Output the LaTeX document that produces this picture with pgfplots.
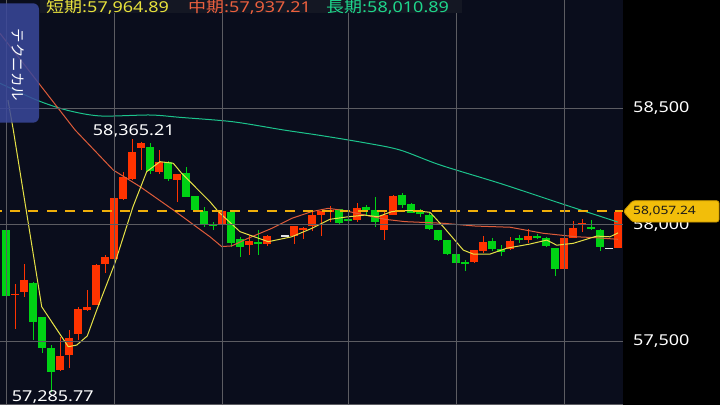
\documentclass[border=0pt]{standalone}
\usepackage{graphicx}
\usepackage{fontspec}
\setmainfont{Noto Sans}
\newfontfamily\jp{Noto Sans CJK JP}
\usepackage{pgfplots}
\pgfplotsset{compat=1.18}
\usepackage{pgfplotstable}

\definecolor{bgnavy}{RGB}{10,13,28}
\definecolor{gridc}{RGB}{92,92,98}
\definecolor{upcol}{RGB}{255,51,0}
\definecolor{dncol}{RGB}{0,210,20}
\definecolor{dojicol}{RGB}{225,225,230}
\definecolor{shortc}{RGB}{230,225,70}
\definecolor{midc}{RGB}{222,92,58}
\definecolor{longc}{RGB}{28,195,140}
\definecolor{dashc}{RGB}{240,175,10}
\definecolor{tagc}{RGB}{242,190,10}
\definecolor{tagedge}{RGB}{200,150,0}
\definecolor{btnc}{RGB}{58,72,155}
\definecolor{legbg}{RGB}{20,23,35}
\definecolor{shorttxt}{RGB}{232,226,60}
\definecolor{midtxt}{RGB}{236,96,62}
\definecolor{longtxt}{RGB}{30,215,140}

% slot open high low close
\pgfplotstableread{
x o h l c
2 57698 57746 57553 57705
3 57713 57831 57690 57763
7 57378 57519 57373 57437
8 57443 57547 57386 57514
9 57531 57648 57506 57639
10 57634 57720 57632 57647
11 57656 57831 57656 57827
12 57831 57870 57792 57860
13 57852 58114 57852 58114
14 58109 58227 58106 58204
15 58196 58365.21 58191 58311
16 58330 58354 58234 58353
18 58227 58323 58220 58269
20 58193 58218 58098 58218
25 57999 58063 57996 58060
28 57913 57956 57870 57933
30 57917 57956 57909 57951
33 57951 57994 57917 57994
34 57980 57991 57939 57987
35 57994 58059 57974 58040
36 58041 58061 57951 58059
37 58054 58080 58013 58063
40 58020 58092 58013 58071
43 57977 58056 57934 58041
44 58044 58127 58041 58123
53 57839 57891 57837 57891
54 57888 57951 57880 57927
57 57896 57946 57891 57930
59 57934 57984 57924 57951
63 57809 57943 57809 57943
64 57944 58016 57942 57984
65 57999 58023 57970 58007
69 57900 58057.24 57900 58057.24
}\tabUp

\pgfplotstableread{
x o h l c
1 57977 57977 57696 57696
4 57750 57754 57506 57584
5 57604 57604 57451 57473
6 57471 57484 57285.77 57367
17 58334 58351 58217 58229
19 58269 58273 58187 58196
21 58223 58248 58119 58122
22 58122 58123 58060 58066
23 58062 58077 57991 58002
24 58003 58013 57977 57997
26 58053 58059 57906 57920
27 57939 57946 57863 57906
29 57927 57977 57870 57919
38 58066 58067 58004 58008
39 58023 58024 58016 58017
41 58076 58084 58037 58063
42 58063 58120 57991 58013
45 58126 58137 58074 58083
46 58089 58093 58050 58051
47 58056 58067 58034 58049
48 58043 58051 57979 57981
49 57977 57980 57930 57934
50 57934 57934 57870 57876
51 57874 57874 57836 57837
52 57840 57849 57803 57835
55 57930 57946 57888 57899
56 57899 57913 57867 57884
58 57943 57956 57923 57939
60 57951 57960 57937 57947
61 57944 57949 57906 57909
62 57900 57900 57781 57813
66 57990 58023 57977 57981
67 57980 57984 57887 57906
}\tabDn

\pgfplotstableread{
x o h l c
32 57956 57956 57952 57952
68 57900 57900 57897 57897
}\tabDoji

\begin{document}
\begin{tikzpicture}
\useasboundingbox (0,0) rectangle (720pt,405pt);
\fill[black] (0,0) rectangle (720pt,405pt);
\begin{axis}[
  at={(0pt,0pt)}, anchor=south west,
  scale only axis, width=623pt, height=405pt,
  xmin=0.333, xmax=69.556, ymin=57227.1, ymax=58962.9,
  axis background/.style={fill=bgnavy},
  axis line style={draw=none},
  xtick={1,13,25,39,51,63}, xticklabels={},
  ytick={57500,58000,58500},
  yticklabels={{\scalebox{1.2}[1]{57,500}},{\scalebox{1.2}[1]{58,000}},{\scalebox{1.2}[1]{58,500}}},
  yticklabel pos=right,
  major tick length=0pt,
  grid=major, grid style={gridc, line width=1pt},
  axis on top,
  yticklabel style={font=\fontsize{15}{18}\selectfont, text=white, anchor=west, inner sep=0pt, xshift=10pt},
]
% wicks
\addplot[forget plot, draw=none, mark=none, error bars/.cd, y dir=both, y explicit, error mark=none,
  error bar style={draw=upcol, line width=1pt}]
  table[x=x, y expr=(\thisrow{h}+\thisrow{l})/2, y error expr=(\thisrow{h}-\thisrow{l})/2] {\tabUp};
\addplot[forget plot, draw=none, mark=none, error bars/.cd, y dir=both, y explicit, error mark=none,
  error bar style={draw=dncol, line width=1pt}]
  table[x=x, y expr=(\thisrow{h}+\thisrow{l})/2, y error expr=(\thisrow{h}-\thisrow{l})/2] {\tabDn};
% bodies
\addplot[forget plot, draw=none, mark=none, error bars/.cd, y dir=both, y explicit, error mark=none,
  error bar style={draw=upcol, line width=7.5pt}]
  table[x=x, y expr=(\thisrow{o}+\thisrow{c})/2, y error expr=abs(\thisrow{c}-\thisrow{o})/2] {\tabUp};
\addplot[forget plot, draw=none, mark=none, error bars/.cd, y dir=both, y explicit, error mark=none,
  error bar style={draw=dncol, line width=7.5pt}]
  table[x=x, y expr=(\thisrow{o}+\thisrow{c})/2, y error expr=abs(\thisrow{c}-\thisrow{o})/2] {\tabDn};
\addplot[forget plot, draw=none, mark=none, error bars/.cd, y dir=both, y explicit, error mark=none,
  error bar style={draw=dojicol, line width=7.5pt}]
  table[x=x, y expr=(\thisrow{o}+\thisrow{c})/2, y error expr=abs(\thisrow{c}-\thisrow{o})/2] {\tabDoji};
% long MA
\addplot[longc, line width=1pt, mark=none, smooth, tension=0.5] coordinates {
(0.33,58606) (4.41,58534) (7.74,58491) (11.44,58466) (17,58470) (20.33,58460) (26.22,58441)
(31.81,58406) (36,58382) (41,58350) (44.78,58320) (49.22,58256) (55.89,58177) (62.56,58092) (69,58010.89)};
% medium MA
\addplot[midc, line width=1pt, mark=none] coordinates {
(0.33,58820) (8.67,58406) (12.92,58234) (15.89,58163) (19.59,58063) (23.67,57948) (24.97,57906)
(26.08,57909) (27.92,57942) (30.52,57984) (32.74,58027) (34.97,58056) (36.81,58070) (38.67,58060)
(40.89,58041) (43.11,58023) (45.33,58013) (49.56,58006) (53.19,57994) (57,57989) (60.7,57963)
(64.41,57948) (66.63,57944) (69,57937.21)};
% short MA
\addplot[shortc, line width=1pt, mark=none] coordinates {
(1.22,58534) (1.81,58406) (4.97,57648) (7.92,57477) (8.86,57484) (10.03,57523) (11.08,57634)
(13.11,57836) (15.11,58077) (16.63,58227) (18.11,58270) (19.59,58263) (20.52,58220) (22.56,58141)
(23.67,58098) (24.59,58056) (27,57970) (30.14,57927) (32.74,57948) (34.97,57984) (37,58023)
(39.03,58034) (40.89,58041) (42.33,58034) (43.86,58056) (45.33,58060) (46.44,58060) (48.11,58053)
(49.59,57991) (51.81,57891) (52.92,57874) (54.78,57874) (56.63,57899) (59.22,57917) (61.08,57934)
(62.19,57912) (64.03,57920) (66.63,57951) (68.11,57948) (69,57964.89)};
% current price line
\addplot[draw=dashc, line width=2pt, dash pattern=on 10pt off 8.33pt, dash phase=8.33pt, mark=none]
  coordinates {(0.333,58057.24) (69.556,58057.24)};
% high / low labels
\node[anchor=south, inner sep=0pt, text=white, font=\fontsize{15}{18}\selectfont, yshift=2pt]
  at (axis cs:15.2,58365.21) {\scalebox{1.2}[1]{58,365.21}};
\node[anchor=north, inner sep=0pt, text=white, font=\fontsize{15}{18}\selectfont, yshift=1pt]
  at (axis cs:6.2,57285.77) {\scalebox{1.2}[1]{57,285.77}};
\end{axis}
% bottom line
\draw[gridc, line width=1pt] (0,0.5pt) -- (623pt,0.5pt);
% legend strip
\fill[legbg] (40pt,392pt) rectangle (462pt,405pt);
\node[anchor=base west, inner sep=0pt, text=shorttxt, font=\fontsize{15}{18}\selectfont] at (46pt,392.7pt)
  {\scalebox{1.2}[1]{{\jp 短期:}57,964.89}};
\node[anchor=base west, inner sep=0pt, text=midtxt, font=\fontsize{15}{18}\selectfont] at (188pt,392.7pt)
  {\scalebox{1.2}[1]{{\jp 中期:}57,937.21}};
\node[anchor=base west, inner sep=0pt, text=longtxt, font=\fontsize{15}{18}\selectfont] at (326pt,392.7pt)
  {\scalebox{1.2}[1]{{\jp 長期:}58,010.89}};
% technical button
\fill[btnc, fill opacity=0.85, rounded corners=6pt] (-8pt,282.3pt) rectangle (39pt,401.7pt);
\node[rotate=-90, text=white, inner sep=0pt, font=\jp\fontsize{14.5}{17}\selectfont] at (18.5pt,340pt) {テクニカル};
% price tag
\fill[tagc, draw=tagedge, line width=0.8pt, rounded corners=2.5pt]
  (623.3pt,193.5pt) -- (632.7pt,204.3pt) -- (719pt,204.3pt) -- (719pt,183pt) -- (632.7pt,183pt) -- cycle;
\node[anchor=west, inner sep=0pt, text=black!90, font=\fontsize{11.5}{14}\selectfont] at (633pt,193.5pt)
  {\scalebox{1.2}[1]{58,057.24}};
\end{tikzpicture}
\end{document}
